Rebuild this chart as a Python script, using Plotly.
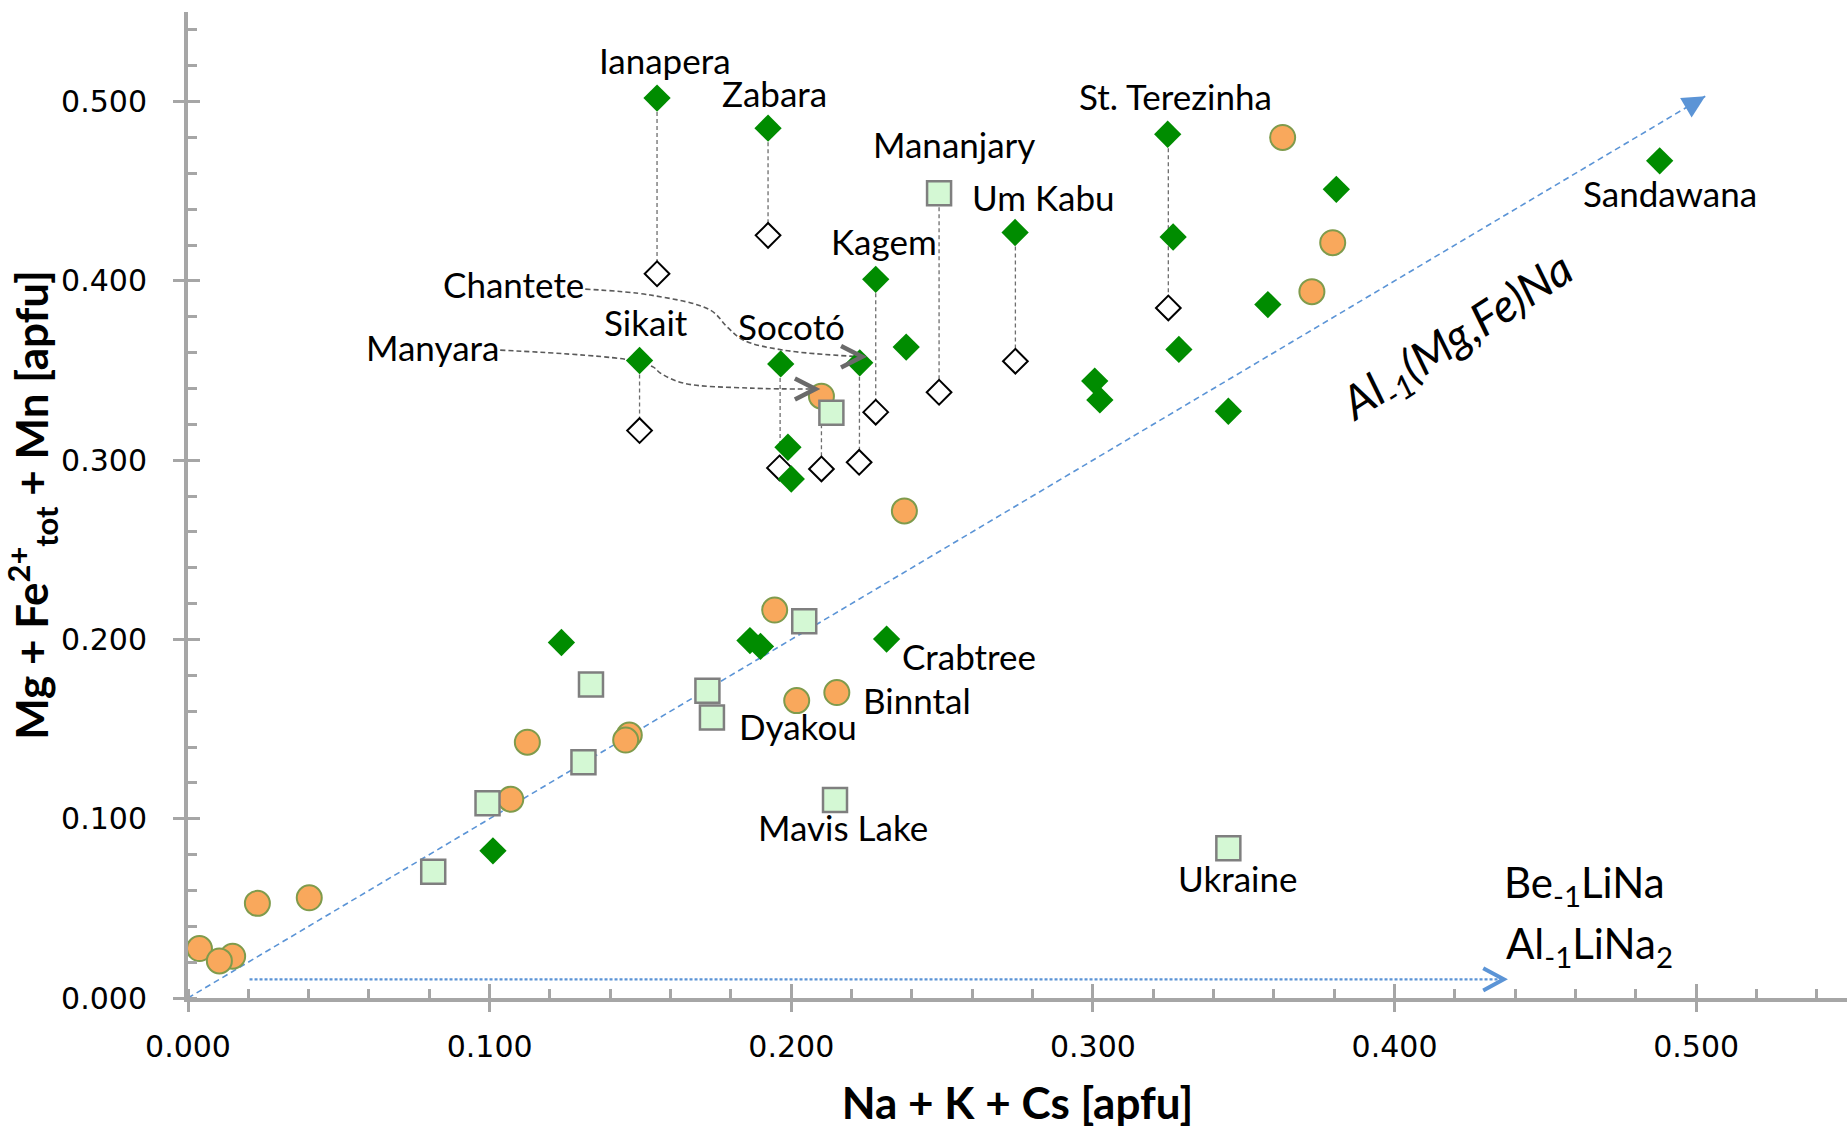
import plotly.graph_objects as go

# ---------------- data (apfu) ----------------
# filled green diamonds
green_x = [0.1555, 0.1923, 0.3248, 0.3807, 0.4879, 0.2742, 0.3266, 0.2280, 0.2381, 0.3285,
           0.3580, 0.1497, 0.1965, 0.2227, 0.3006, 0.3023, 0.3449, 0.1989, 0.2000, 0.1238,
           0.1863, 0.1898, 0.2316, 0.1011]
green_y = [0.5020, 0.4852, 0.4818, 0.4511, 0.4670, 0.4270, 0.4245, 0.4009, 0.3631, 0.3618,
           0.3868, 0.3556, 0.3537, 0.3543, 0.3441, 0.3336, 0.3273, 0.3072, 0.2895, 0.1983,
           0.1994, 0.1961, 0.2002, 0.0821]

# open (white) diamonds
white_x = [0.1555, 0.1923, 0.1497, 0.1961, 0.2100, 0.2225, 0.2280, 0.2490, 0.2743, 0.3250]
white_y = [0.4040, 0.4254, 0.3165, 0.2957, 0.2951, 0.2988, 0.3268, 0.3379, 0.3552, 0.3849]

# orange circles
orange_x = [0.3629, 0.3795, 0.3726, 0.2100, 0.2375, 0.1945, 0.2018, 0.2151, 0.1125, 0.1463,
            0.1451, 0.1070, 0.0230, 0.0402, 0.0038, 0.0148, 0.0104]
orange_y = [0.4800, 0.4213, 0.3940, 0.3357, 0.2717, 0.2164, 0.1659, 0.1704, 0.1427, 0.1467,
            0.1439, 0.1109, 0.0528, 0.0559, 0.0276, 0.0233, 0.0207]

# light green squares
square_x = [0.2490, 0.2133, 0.2043, 0.1336, 0.1722, 0.1737, 0.1311, 0.0993, 0.0813, 0.2145, 0.3449]
square_y = [0.4489, 0.3264, 0.2101, 0.1749, 0.1714, 0.1564, 0.1315, 0.1086, 0.0704, 0.1105, 0.0836]

# vertical tie lines (same locality, two analyses)
tie_x = [0.1555, 0.1923, 0.2490, 0.2743, 0.2280, 0.3250, 0.1497, 0.1963, 0.2226, 0.2100]
tie_top = [0.5020, 0.4852, 0.4489, 0.4270, 0.4009, 0.4818, 0.3556, 0.3537, 0.3543, 0.3357]
tie_bottom = [0.4040, 0.4254, 0.3379, 0.3552, 0.3268, 0.3849, 0.3165, 0.2957, 0.2988, 0.2951]

# locality labels
label_text = ["Ianapera", "Zabara", "Mananjary", "Um Kabu", "Kagem", "St. Terezinha",
              "Sandawana", "Chantete", "Sikait", "Socotó", "Manyara", "Crabtree",
              "Binntal", "Dyakou", "Mavis Lake", "Ukraine"]
label_x = [0.1582, 0.1945, 0.2539, 0.2836, 0.2309, 0.3273, 0.4914, 0.1078, 0.1520, 0.2000,
           0.0809, 0.2590, 0.2418, 0.2023, 0.2172, 0.3480]
label_y = [0.5230, 0.5046, 0.4763, 0.4467, 0.4224, 0.5033, 0.4493, 0.3980, 0.3770, 0.3750,
           0.3632, 0.1908, 0.1664, 0.1520, 0.0954, 0.0671]

# exchange vectors
diag_x = [0.0, 0.503]
diag_y = [0.0, 0.503]
horiz_x = [0.0204, 0.4362]
horiz_y = [0.0104, 0.0104]

# curved pointers
chantete_x = [0.1317, 0.1533, 0.1732, 0.1788, 0.1841, 0.1974, 0.2230]
chantete_y = [0.3954, 0.3921, 0.3837, 0.3742, 0.3670, 0.3614, 0.3577]
manyara_x = [0.1035, 0.1467, 0.1543, 0.1566, 0.1642, 0.1865, 0.2075]
manyara_y = [0.3614, 0.3558, 0.3519, 0.3486, 0.3430, 0.3402, 0.3397]

tick_vals = [0.0, 0.1, 0.2, 0.3, 0.4, 0.5]
tick_text = ["0.000", "0.100", "0.200", "0.300", "0.400", "0.500"]

# ---------------- styles ----------------
GREEN = "#008C00"
ORANGE = "#F9A85C"
ORANGE_EDGE = "#7F9B4C"
SQ_FILL = "#D4F8D4"
SQ_EDGE = "#7F7F7F"
BLUE = "#5B94D6"
AXIS = "#A6A6A6"
GRAYLINE = "#5A5A5A"
LABEL_FONT = "Lato"

fig = go.Figure()

# tie lines
tx, ty = [], []
for x, a, b in zip(tie_x, tie_top, tie_bottom):
    tx += [x, x, None]
    ty += [a, b, None]
fig.add_trace(go.Scatter(x=tx, y=ty, mode="lines",
                         line=dict(color="#6E6E6E", width=1.3, dash="4px,3px"),
                         hoverinfo="skip", showlegend=False))

# exchange vector lines
fig.add_trace(go.Scatter(x=diag_x, y=diag_y, mode="lines",
                         line=dict(color=BLUE, width=1.6, dash="6px,4px"),
                         hoverinfo="skip", showlegend=False))
fig.add_trace(go.Scatter(x=horiz_x, y=horiz_y, mode="lines",
                         line=dict(color=BLUE, width=2.2, dash="3px,2px"),
                         hoverinfo="skip", showlegend=False))

# curved pointers
for cx, cy in [(chantete_x, chantete_y), (manyara_x, manyara_y)]:
    fig.add_trace(go.Scatter(x=cx, y=cy, mode="lines",
                             line=dict(color=GRAYLINE, width=1.6, dash="5px,3px", shape="spline", smoothing=1.0),
                             hoverinfo="skip", showlegend=False))

# markers
fig.add_trace(go.Scatter(x=white_x, y=white_y, mode="markers",
                         marker=dict(symbol="diamond", size=19, color="white",
                                     line=dict(color="black", width=2)),
                         showlegend=False))
fig.add_trace(go.Scatter(x=orange_x, y=orange_y, mode="markers",
                         marker=dict(symbol="circle", size=25, color=ORANGE,
                                     line=dict(color=ORANGE_EDGE, width=2)),
                         showlegend=False))
fig.add_trace(go.Scatter(x=square_x, y=square_y, mode="markers",
                         marker=dict(symbol="square", size=24, color=SQ_FILL,
                                     line=dict(color=SQ_EDGE, width=2.5)),
                         showlegend=False))
fig.add_trace(go.Scatter(x=green_x, y=green_y, mode="markers",
                         marker=dict(symbol="diamond", size=21, color=GREEN,
                                     line=dict(color=GREEN, width=0)),
                         showlegend=False))

# dummy trace for overlay axes (inner part of major ticks)
fig.add_trace(go.Scatter(x=[None], y=[None], xaxis="x2", yaxis="y2", showlegend=False,
                         hoverinfo="skip"))

# chevron arrowheads (path shapes anchored on data tips)
def chevron(tipx, tipy, dx, dy, color, width):
    return dict(type="path", xref="x", yref="y",
                path=f"M {tipx - dx},{tipy + dy} L {tipx},{tipy} L {tipx - dx},{tipy - dy}",
                line=dict(color=color, width=width))

shapes = [
    chevron(horiz_x[1], horiz_y[1], 0.0068, 0.0062, BLUE, 4),
    chevron(chantete_x[-1] + 0.0005, chantete_y[-1], 0.0070, 0.0060, "#6A6A6A", 4.5),
    chevron(manyara_x[-1] + 0.0005, manyara_y[-1], 0.0068, 0.0058, "#6A6A6A", 4.5),
]

annotations = []
for t, x, y in zip(label_text, label_x, label_y):
    annotations.append(dict(x=x, y=y, text=t, showarrow=False, xanchor="center", yanchor="middle",
                            font=dict(family=LABEL_FONT, size=35, color="black")))

# blue arrowhead on the diagonal vector
annotations.append(dict(x=diag_x[1], y=diag_y[1], ax=diag_x[1] - 0.004, ay=diag_y[1] - 0.004,
                        axref="x", ayref="y", xref="x", yref="y", showarrow=True,
                        arrowhead=2, arrowsize=1.8, arrowwidth=2.5, arrowcolor=BLUE, text=" "))

# exchange vector labels
annotations.append(dict(x=0.421, y=0.368, text="Al<sub>-1</sub>(Mg,Fe)Na", showarrow=False,
                        textangle=-33, xanchor="center", yanchor="middle",
                        font=dict(family=LABEL_FONT, size=46, color="black", style="italic")))
annotations.append(dict(x=0.4629, y=0.0632, text="Be<sub>-1</sub>LiNa", showarrow=False,
                        xanchor="center", yanchor="middle",
                        font=dict(family=LABEL_FONT, size=42, color="black")))
annotations.append(dict(x=0.4645, y=0.0289, text="Al<sub>-1</sub>LiNa<sub>2</sub>", showarrow=False,
                        xanchor="center", yanchor="middle",
                        font=dict(family=LABEL_FONT, size=42, color="black")))

tickfont = dict(family="DejaVu Sans", size=30, color="black")

fig.update_layout(
    width=1847, height=1134,
    margin=dict(l=188, r=0, t=12, b=136),
    paper_bgcolor="white", plot_bgcolor="white",
    showlegend=False,
    shapes=shapes,
    annotations=annotations,
    xaxis=dict(range=[0, 0.55], tickvals=tick_vals, ticktext=tick_text,
               showgrid=False, zeroline=False, showline=True, linecolor=AXIS, linewidth=4,
               ticks="outside", ticklen=10, tickwidth=3, tickcolor=AXIS,
               tickfont=tickfont, ticklabelstandoff=9,
               minor=dict(dtick=0.02, tick0=0, ticks="inside", ticklen=9, tickwidth=2.5, tickcolor=AXIS,
                          showgrid=False),
               title=dict(text="<b>Na + K + Cs [apfu]</b>", standoff=26,
                          font=dict(family="Lato", size=44, color="black"))),
    yaxis=dict(range=[0, 0.55], tickvals=tick_vals, ticktext=tick_text,
               showgrid=False, zeroline=False, showline=True, linecolor=AXIS, linewidth=4,
               ticks="outside", ticklen=11, tickwidth=3, tickcolor=AXIS,
               tickfont=tickfont, ticklabelstandoff=20,
               minor=dict(dtick=0.02, tick0=0, ticks="inside", ticklen=9, tickwidth=2.5, tickcolor=AXIS,
                          showgrid=False),
               title=dict(text="<b>Mg + Fe<sup>2+</sup><sub>tot</sub> + Mn [apfu]</b>", standoff=6,
                          font=dict(family="Lato", size=44, color="black"))),
    xaxis2=dict(range=[0, 0.55], overlaying="x", anchor="y", side="bottom",
                tickvals=tick_vals, showticklabels=False, ticks="inside", ticklen=14,
                tickwidth=3, tickcolor=AXIS, showgrid=False, zeroline=False, showline=False),
    yaxis2=dict(range=[0, 0.55], overlaying="y", anchor="x", side="left",
                tickvals=tick_vals, showticklabels=False, ticks="inside", ticklen=12,
                tickwidth=3, tickcolor=AXIS, showgrid=False, zeroline=False, showline=False),
)

fig.write_html("out.html")
